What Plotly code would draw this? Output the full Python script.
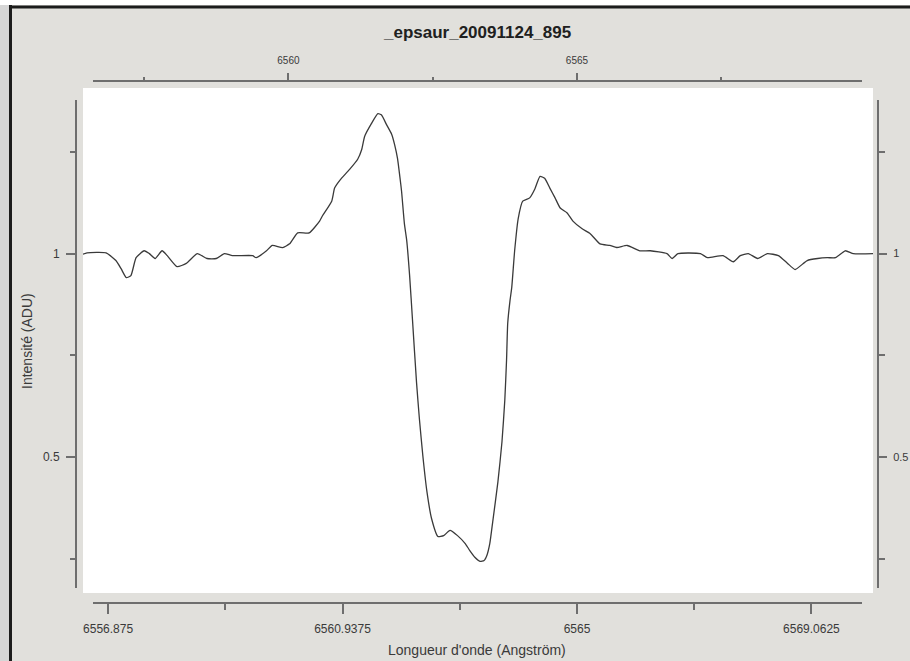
import plotly.graph_objects as go

# ---- data ----
wavelength = [6556.37, 6556.51, 6556.84, 6557.01, 6557.10, 6557.19, 6557.27, 6557.36, 6557.50, 6557.59,
              6557.69, 6557.81, 6557.90, 6558.07, 6558.23, 6558.42, 6558.59, 6558.75, 6558.89, 6559.03,
              6559.38, 6559.44, 6559.62, 6559.72, 6559.90, 6560.02, 6560.16, 6560.36, 6560.54, 6560.59,
              6560.75, 6560.80, 6560.89, 6561.06, 6561.20, 6561.27, 6561.32, 6561.44, 6561.55, 6561.61,
              6561.70, 6561.79, 6561.84, 6561.89, 6561.93, 6561.96, 6562.01, 6562.05, 6562.10, 6562.15,
              6562.22, 6562.27, 6562.33, 6562.40, 6562.48, 6562.59, 6562.69, 6562.80, 6562.93, 6563.06,
              6563.14, 6563.23, 6563.32, 6563.39, 6563.44, 6563.49, 6563.54, 6563.63, 6563.70, 6563.75,
              6563.78, 6563.80, 6563.84, 6563.87, 6563.92, 6563.98, 6564.06, 6564.18, 6564.27, 6564.36,
              6564.44, 6564.53, 6564.62, 6564.71, 6564.83, 6564.93, 6565.09, 6565.23, 6565.40, 6565.57,
              6565.69, 6565.87, 6566.09, 6566.27, 6566.56, 6566.65, 6566.75, 6567.14, 6567.26, 6567.53,
              6567.71, 6567.83, 6567.97, 6568.13, 6568.30, 6568.49, 6568.65, 6568.78, 6568.99, 6569.17,
              6569.34, 6569.48, 6569.65, 6569.79, 6570.14]

intensity = [0.995, 1.002, 1.002, 0.983, 0.963, 0.941, 0.946, 0.990, 1.007, 1.000,
             0.988, 1.007, 0.995, 0.968, 0.976, 1.000, 0.988, 0.988, 1.000, 0.995,
             0.995, 0.990, 1.007, 1.020, 1.015, 1.024, 1.051, 1.051, 1.080, 1.093,
             1.129, 1.161, 1.180, 1.207, 1.232, 1.256, 1.288, 1.320, 1.344, 1.341,
             1.317, 1.293, 1.268, 1.234, 1.190, 1.154, 1.073, 1.032, 0.946, 0.837,
             0.683, 0.593, 0.502, 0.415, 0.349, 0.305, 0.307, 0.320, 0.307, 0.288,
             0.271, 0.254, 0.244, 0.246, 0.259, 0.288, 0.341, 0.439, 0.537, 0.641,
             0.739, 0.829, 0.885, 0.917, 1.007, 1.085, 1.129, 1.137, 1.159, 1.190,
             1.185, 1.161, 1.137, 1.112, 1.100, 1.080, 1.061, 1.049, 1.024, 1.020,
             1.015, 1.020, 1.007, 1.007, 1.000, 0.988, 1.000, 1.000, 0.990, 0.995,
             0.980, 0.995, 1.000, 0.988, 1.000, 0.995, 0.976, 0.961, 0.983, 0.988,
             0.990, 0.990, 1.007, 1.000, 1.000]

bottom_major = [6556.875, 6560.9375, 6565, 6569.0625]
bottom_labels = ["6556.875", "6560.9375", "6565", "6569.0625"]
bottom_minor = [6558.90625, 6562.96875, 6567.03125]
top_major = [6560, 6565]
top_labels = ["6560", "6565"]
top_minor = [6557.5, 6562.5, 6567.5]
y_major = [0.5, 1]
y_labels = ["0.5", "1"]
y_minor = [0.25, 0.75, 1.25]

title_text = "_epsaur_20091124_895"
x_title = "Longueur d'onde (Angström)"
y_title = "Intensité (ADU)"

# ---- layout helpers ----
W, H = 910, 661
def px(x): return x / W
def py(y): return 1 - y / H

XR = [6556.44, 6570.13]
YR = [0.166, 1.407]
BG = "#e1e0dc"
AX = "#6e6e6e"
TXT = "#3a3a3a"
FONT = "Liberation Sans, Arial, sans-serif"

fig = go.Figure()
fig.add_trace(go.Scatter(x=wavelength, y=intensity, mode="lines",
                         line=dict(color="#3a3a3a", width=1.3, shape="spline", smoothing=0.5),
                         xaxis="x", yaxis="y", hoverinfo="skip", showlegend=False))
fig.add_trace(go.Scatter(x=wavelength, y=intensity, mode="lines",
                         line=dict(color="rgba(0,0,0,0)", width=0),
                         xaxis="x2", yaxis="y2", hoverinfo="skip", showlegend=False))

tickfont = dict(family=FONT, size=12, color=TXT)

fig.update_layout(
    width=W, height=H, autosize=False,
    margin=dict(l=0, r=0, t=0, b=0, pad=0),
    paper_bgcolor=BG, plot_bgcolor="white",
    showlegend=False,
    xaxis=dict(domain=[px(83), px(873)], range=XR, anchor="free", position=py(603),
               side="bottom", showgrid=False, zeroline=False, showline=False,
               tickmode="array", tickvals=bottom_major, ticktext=bottom_labels,
               ticks="outside", ticklen=10, tickwidth=1.5, tickcolor=AX,
               tickfont=tickfont, automargin=False, ticklabelstandoff=5,
               minor=dict(tickmode="array", tickvals=bottom_minor, ticks="outside",
                          ticklen=6, tickwidth=1.5, tickcolor=AX, showgrid=False)),
    xaxis2=dict(overlaying="x", range=XR, anchor="free", position=py(81),
                side="top", showgrid=False, zeroline=False, showline=False,
                tickmode="array", tickvals=top_major, ticktext=top_labels,
                ticks="outside", ticklen=8, tickwidth=1.5, tickcolor=AX,
                tickfont=dict(family=FONT, size=10, color=TXT), automargin=False,
                ticklabelstandoff=5,
                minor=dict(tickmode="array", tickvals=top_minor, ticks="outside",
                           ticklen=4, tickwidth=1.5, tickcolor=AX, showgrid=False)),
    yaxis=dict(domain=[py(593), py(88)], range=YR, anchor="free", position=px(76),
               side="left", showgrid=False, zeroline=False, showline=False,
               tickmode="array", tickvals=y_major, ticktext=y_labels,
               ticks="outside", ticklen=10, tickwidth=1.5, tickcolor=AX,
               tickfont=tickfont, automargin=False, ticklabelstandoff=4,
               minor=dict(tickmode="array", tickvals=y_minor, ticks="outside",
                          ticklen=6, tickwidth=1.5, tickcolor=AX, showgrid=False)),
    yaxis2=dict(overlaying="y", range=YR, anchor="free", position=px(878),
                side="right", showgrid=False, zeroline=False, showline=False,
                tickmode="array", tickvals=y_major, ticktext=y_labels,
                ticks="outside", ticklen=8, tickwidth=1.5, tickcolor=AX,
                tickfont=dict(family=FONT, size=11, color=TXT), automargin=False,
                ticklabelstandoff=4,
                minor=dict(tickmode="array", tickvals=y_minor, ticks="outside",
                           ticklen=6, tickwidth=1.5, tickcolor=AX, showgrid=False)),
)

shapes = [
    # window frame
    dict(type="rect", xref="paper", yref="paper", x0=0, x1=px(9), y0=0, y1=1,
         fillcolor="#d6d6d6", line=dict(width=0), layer="below"),
    dict(type="rect", xref="paper", yref="paper", x0=0, x1=1, y0=py(5), y1=1,
         fillcolor="#ffffff", line=dict(width=0), layer="below"),
    dict(type="line", xref="paper", yref="paper", x0=px(10.5), x1=px(10.5), y0=0, y1=py(5),
         line=dict(color="#1c1c1c", width=3)),
    dict(type="line", xref="paper", yref="paper", x0=px(10), x1=1, y0=py(7), y1=py(7),
         line=dict(color="#1c1c1c", width=3)),
    # axis lines
    dict(type="line", xref="paper", yref="paper", x0=px(93), x1=px(862), y0=py(603), y1=py(603),
         line=dict(color=AX, width=2)),
    dict(type="line", xref="paper", yref="paper", x0=px(93), x1=px(862), y0=py(81), y1=py(81),
         line=dict(color=AX, width=2)),
    dict(type="line", xref="paper", yref="paper", x0=px(76), x1=px(76), y0=py(100), y1=py(588),
         line=dict(color=AX, width=2)),
    dict(type="line", xref="paper", yref="paper", x0=px(878), x1=px(878), y0=py(100), y1=py(588),
         line=dict(color=AX, width=2)),
]
fig.update_layout(shapes=shapes)

fig.add_annotation(text="<b>" + title_text + "</b>", xref="paper", yref="paper",
                   x=px(477), y=py(32), xanchor="center", yanchor="middle", showarrow=False,
                   font=dict(family=FONT, size=17, color="#202020"))
fig.add_annotation(text=x_title, xref="paper", yref="paper",
                   x=px(477), y=py(650), xanchor="center", yanchor="middle", showarrow=False,
                   font=dict(family=FONT, size=14, color=TXT))
fig.add_annotation(text=y_title, xref="paper", yref="paper", textangle=-90,
                   x=px(27), y=py(341), xanchor="center", yanchor="middle", showarrow=False,
                   font=dict(family=FONT, size=14, color=TXT))

fig.write_html("out.html")
